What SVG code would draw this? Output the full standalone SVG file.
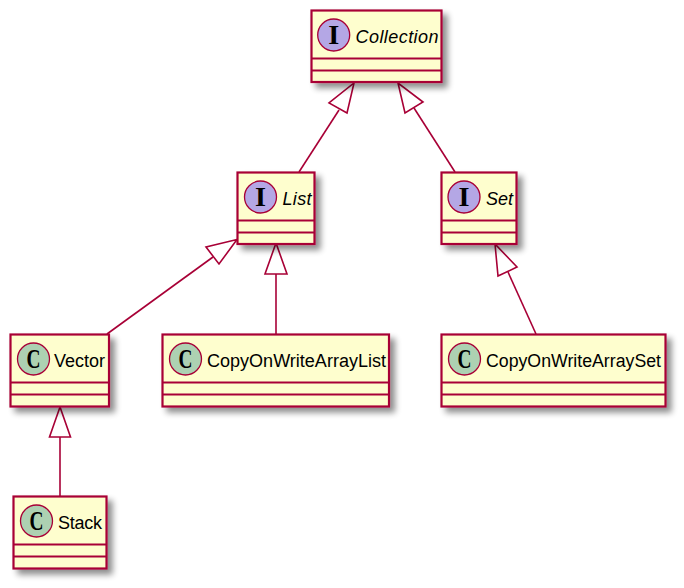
<svg xmlns="http://www.w3.org/2000/svg" width="684" height="588" viewBox="0 0 684 588">
<style>
.box{fill:#FEFECE;stroke:#A80036;stroke-width:2.2;filter:url(#shadow)}
.div{stroke:#A80036;stroke-width:2.2;fill:none}
.spot{stroke:#A80036;stroke-width:1.3}
.i{fill:#B4A7E5}
.c{fill:#ADD1B2}
.glyph{font-family:"Liberation Serif",serif;font-weight:bold;font-size:27px;text-anchor:middle;fill:#000}
.label{font-family:"Liberation Sans",Arial,sans-serif;font-size:18px;fill:#000}
.it{font-style:italic}
.edge{stroke:#A80036;stroke-width:1.6;fill:none}
.head{stroke:#A80036;stroke-width:1.6;fill:#fff}
</style>
<defs>
<filter id="shadow" x="-20%" y="-20%" width="140%" height="140%">
<feGaussianBlur in="SourceAlpha" stdDeviation="3" result="b"/>
<feOffset in="b" dx="5" dy="5" result="o"/>
<feComponentTransfer in="o" result="s"><feFuncA type="linear" slope="0.45"/></feComponentTransfer>
<feMerge><feMergeNode in="s"/><feMergeNode in="SourceGraphic"/></feMerge>
</filter>
</defs>
<rect width="684" height="588" fill="#fff"/>
<g id="connectors">
<path class="edge" d="M299 172L339 110"/>
<polygon class="head" points="354,83 347,113 329,103"/>
<path class="edge" d="M455 172L414 108"/>
<polygon class="head" points="398,83 405,113 423,102"/>
<path class="edge" d="M107 334L213 257"/>
<polygon class="head" points="237,239.500 219,264 206,247"/>
<path class="edge" d="M276 334V274"/>
<polygon class="head" points="276,243 265,274 287,274"/>
<path class="edge" d="M536 334L508 272"/>
<polygon class="head" points="495,244 498,276 517,267"/>
<path class="edge" d="M60 496V437"/>
<polygon class="head" points="60,407 49.500,437 70.500,437"/>
</g>
<g id="collection">
<rect class="box" x="311.500" y="10.500" width="130" height="71.500"/>
<path class="div" d="M311.500 58.500H441.500M311.500 70.500H441.500"/>
<circle class="spot i" cx="333.700" cy="35" r="16"/>
<text class="glyph" x="333.700" y="44" textLength="11" lengthAdjust="spacingAndGlyphs">I</text>
<text class="label it" x="355.500" y="42.500" textLength="83">Collection</text>
</g>
<g id="list">
<rect class="box" x="237.500" y="172.500" width="77" height="71.500"/>
<path class="div" d="M237.500 220.500H314.500M237.500 232.500H314.500"/>
<circle class="spot i" cx="260.500" cy="197" r="16"/>
<text class="glyph" x="260.500" y="206" textLength="11" lengthAdjust="spacingAndGlyphs">I</text>
<text class="label it" x="282.500" y="204.500" textLength="29">List</text>
</g>
<g id="set">
<rect class="box" x="441.500" y="172.500" width="75" height="71.500"/>
<path class="div" d="M441.500 220.500H516.500M441.500 232.500H516.500"/>
<circle class="spot i" cx="464" cy="197" r="16"/>
<text class="glyph" x="464" y="206" textLength="11" lengthAdjust="spacingAndGlyphs">I</text>
<text class="label it" x="486" y="204.500" textLength="27">Set</text>
</g>
<g id="vector">
<rect class="box" x="10.500" y="334.500" width="98.500" height="72"/>
<path class="div" d="M10.500 382.500H109M10.500 394.500H109"/>
<circle class="spot c" cx="33.500" cy="359" r="16"/>
<text class="glyph" x="33.500" y="368" textLength="14" lengthAdjust="spacingAndGlyphs">C</text>
<text class="label" x="54" y="366.500" textLength="51">Vector</text>
</g>
<g id="copy-on-write-array-list">
<rect class="box" x="162.500" y="334.500" width="226.500" height="72"/>
<path class="div" d="M162.500 382.500H389M162.500 394.500H389"/>
<circle class="spot c" cx="185.500" cy="359" r="16"/>
<text class="glyph" x="185.500" y="368" textLength="14" lengthAdjust="spacingAndGlyphs">C</text>
<text class="label" x="207" y="366.500" textLength="179" lengthAdjust="spacingAndGlyphs">CopyOnWriteArrayList</text>
</g>
<g id="copy-on-write-array-set">
<rect class="box" x="441.500" y="334.500" width="224" height="72"/>
<path class="div" d="M441.500 382.500H665.500M441.500 394.500H665.500"/>
<circle class="spot c" cx="464.500" cy="359" r="16"/>
<text class="glyph" x="464.500" y="368" textLength="14" lengthAdjust="spacingAndGlyphs">C</text>
<text class="label" x="486" y="366.500" textLength="175" lengthAdjust="spacingAndGlyphs">CopyOnWriteArraySet</text>
</g>
<g id="stack">
<rect class="box" x="13.500" y="496.500" width="93" height="72"/>
<path class="div" d="M13.500 544.500H106.500M13.500 556.500H106.500"/>
<circle class="spot c" cx="36.500" cy="521" r="16"/>
<text class="glyph" x="36.500" y="530" textLength="14" lengthAdjust="spacingAndGlyphs">C</text>
<text class="label" x="58" y="528.500" textLength="44">Stack</text>
</g>
</svg>
